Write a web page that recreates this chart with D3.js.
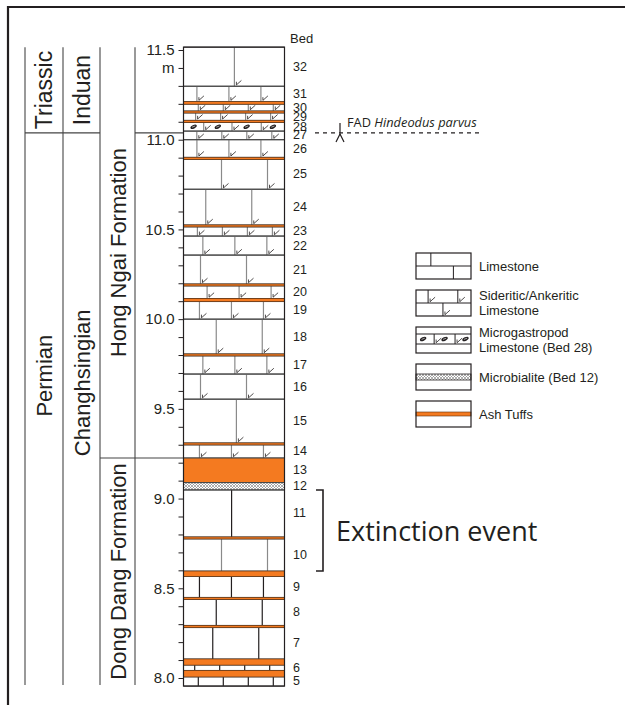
<!DOCTYPE html>
<html><head><meta charset="utf-8">
<script src="https://cdn.jsdelivr.net/npm/d3@7"></script>
<style>
body{margin:0;background:#fff}
svg{display:block}
text{font-family:"Liberation Sans",Arial,Helvetica,sans-serif;fill:#231f20}
.my{font-family:"Open Sans","Noto Sans",sans-serif}
</style></head><body><svg id="c" width="625" height="705"></svg>
<script>
// ---------------- DATA (metres above base of section) ----------------
const bedNumbers = [32,31,30,29,28,27,26,25,24,23,22,21,20,19,18,17,16,15,14,13,12,11,10,9,8,7,6,5];
const bedTops    = [11.516,11.298,11.198,11.149,11.096,11.048,11.000,10.890,10.724,10.514,10.463,10.357,10.185,10.098,10.000,9.795,9.694,9.554,9.299,9.226,9.089,9.048,8.775,8.566,8.438,8.281,8.072,8.006];
const bedBases   = [11.298,11.212,11.160,11.108,11.048,11.000,10.902,10.724,10.525,10.463,10.357,10.196,10.115,10.000,9.806,9.694,9.554,9.310,9.226,9.089,9.048,8.786,8.596,8.449,8.293,8.106,8.042,7.955];
const bedLithology = ["sid","sid","sid","sid","gast","sid","sid","sid","sid","sid","sid","sid","sid","sid","sid","sid","sid","sid","sid","ash","microb","lime","lime","lime","lime","lime","lime","lime"];

// thin ash-tuff partings (top, base)
const ashPartingTops  = [11.212,11.160,11.108,10.902,10.525,10.196,10.115,9.806,9.310,8.786,8.449,8.293];
const ashPartingBases = [11.198,11.149,11.096,10.890,10.514,10.185,10.098,9.795,9.299,8.775,8.438,8.281];
// thicker ash-tuff layers not numbered as separate beds
const ashLayerTops  = [8.596,8.106,8.042];
const ashLayerBases = [8.566,8.072,8.006];

const tickLabels = ["8.0","8.5","9.0","9.5","10.0","10.5","11.0","11.5"];
const minorTickStep = 0.1;
const unitLabel = "m";
const unitTickValue = 11.4;

const systemNames = ["Triassic","Permian"];
const systemTops  = [11.516, 11.038];
const systemBases = [11.038, 7.955];
const stageNames  = ["Induan","Changhsingian"];
const formationNames = ["Hong Ngai Formation","Dong Dang Formation"];
const formationTops  = [11.516, 9.226];
const formationBases = [9.226, 7.955];
// levels (m) at which the Permian and Changhsingian labels are centred
const permianLabelLevel = 9.685;
const changhsingianLabelLevel = 9.645;

const fadLevel = 11.038;
const extinctionTop = 9.048, extinctionBase = 8.596;

const legendTypes  = ["lime","sid","gast","microb","ash"];
const legendLabels = [["Limestone"],["Sideritic/Ankeritic","Limestone"],["Microgastropod","Limestone (Bed 28)"],["Microbialite (Bed 12)"],["Ash Tuffs"]];

// ---------------- DRAWING ----------------
const INK = "#231f20", ORANGE = "#f47a20", GREY = "#8a8a8a";
const svg = d3.select("#c");
const y = d3.scaleLinear().domain([8, 11.5]).range([678, 50]);
const X0 = 183.5, X1 = 284.5, W = X1 - X0;

const defs = svg.append("defs");
const pat = defs.append("pattern").attr("id","mb").attr("width",3).attr("height",3).attr("patternUnits","userSpaceOnUse");
pat.append("rect").attr("width",3).attr("height",3).attr("fill","#fff");
pat.append("path").attr("d","M0,0L3,3M3,0L0,3").attr("stroke","#8c8c8c").attr("stroke-width",0.7);

// frame
svg.append("path").attr("d","M8,705V7H625").attr("fill","none").attr("stroke",INK).attr("stroke-width",2.2);

// stratigraphic columns on the left
const colLinesX = [25, 63, 100, 135];
const gTop = y(systemTops[0]), gBot = 685;
colLinesX.forEach(x => svg.append("line").attr("x1",x).attr("x2",x).attr("y1",gTop).attr("y2",gBot).attr("stroke","#555").attr("stroke-width",1.2));
svg.append("line").attr("x1",25).attr("x2",100).attr("y1",y(systemBases[0])).attr("y2",y(systemBases[0])).attr("stroke","#444").attr("stroke-width",1.2);
svg.append("line").attr("x1",135).attr("x2",X0).attr("y1",y(fadLevel)).attr("y2",y(fadLevel)).attr("stroke","#444").attr("stroke-width",1.2);
svg.append("line").attr("x1",100).attr("x2",X0).attr("y1",y(formationBases[0])).attr("y2",y(formationBases[0])).attr("stroke","#444").attr("stroke-width",1.2);

function vlabel(txt, cx, cy, fs){
  svg.append("text").attr("transform",`translate(${cx},${cy}) rotate(-90)`).attr("text-anchor","middle")
    .attr("dominant-baseline","central").attr("font-size",fs).text(txt);
}
vlabel(systemNames[0], 44, (y(systemTops[0])+y(systemBases[0]))/2, 23);
vlabel(systemNames[1], 44, y(permianLabelLevel), 22);
vlabel(stageNames[0], 82, (y(systemTops[0])+y(systemBases[0]))/2, 23);
vlabel(stageNames[1], 82, y(changhsingianLabelLevel), 22);
formationNames.forEach((n,i)=>vlabel(n, 118, (y(formationTops[i])+ (i? gBot : y(formationBases[i])))/2, 22));

// ---------- lithology drawing helpers ----------
function sidTick(g, x, yb){
  g.append("path").attr("d",`M${x+2},${yb-4.5}L${x+2},${yb-1.3}L${x+7},${yb-5.8}`)
   .attr("fill","none").attr("stroke",INK).attr("stroke-width",0.8);
}
function gastro(g, cx, cy){
  g.append("ellipse").attr("cx",cx).attr("cy",cy).attr("rx",3.4).attr("ry",1.8)
   .attr("transform",`rotate(-25,${cx},${cy})`).attr("fill",INK);
  g.append("line").attr("x1",cx-1.6).attr("x2",cx+1.6).attr("y1",cy+0.4).attr("y2",cy-0.8)
   .attr("stroke","#fff").attr("stroke-width",0.6);
}
function brickXs(h, i){
  let n, s;
  if (h < 11) { n = 4; s = 25; }
  else if (h < 21) { n = 3; s = 32; }
  else if (h < 37) { n = 2; s = 46; }
  else { n = 1; s = 0; }
  const phases = [0.55, 0.2, 0.8, 0.35, 0.65];
  const f = phases[i % phases.length];
  const lo = 10, hi = W - (n-1)*s - 10;
  const off = n === 1 ? W*0.5 + (f-0.5)*8 : lo + f*(hi-lo);
  return d3.range(n).map(k => X0 + off + k*s);
}

const col = svg.append("g");
bedNumbers.forEach((b,i)=>{
  const yt = y(bedTops[i]), yb = y(bedBases[i]), h = yb - yt, lith = bedLithology[i];
  if (lith === "ash") {
    col.append("rect").attr("x",X0).attr("y",yt).attr("width",W).attr("height",h).attr("fill",ORANGE);
  } else if (lith === "microb") {
    col.append("rect").attr("x",X0).attr("y",yt).attr("width",W).attr("height",h).attr("fill","url(#mb)");
  } else if (lith === "gast") {
    const xs = [X0+W*0.2, X0+W*0.48, X0+W*0.77];
    xs.forEach(x=>{ col.append("line").attr("x1",x).attr("x2",x).attr("y1",yt).attr("y2",yb).attr("stroke",GREY).attr("stroke-width",1.2); sidTick(col,x,yb); });
    const edges = [X0, ...xs, X1];
    d3.range(edges.length-1).forEach(k => gastro(col,(edges[k]+edges[k+1])/2,(yt+yb)/2));
  } else {
    const xs = brickXs(h, i);
    xs.forEach(x=>{
      col.append("line").attr("x1",x).attr("x2",x).attr("y1",yt).attr("y2",yb)
        .attr("stroke", lith === "sid" ? GREY : (b === 10 ? GREY : INK)).attr("stroke-width",1.2);
      if (lith === "sid") sidTick(col, x, yb);
    });
  }
  [yt, yb].forEach(yy => col.append("line").attr("x1",X0).attr("x2",X1).attr("y1",yy).attr("y2",yy).attr("stroke","#444").attr("stroke-width",1)); 
  svg.append("text").attr("x",293).attr("y",(yt+yb)/2).attr("dominant-baseline","central")
    .attr("font-size",12.5).text(b);
});
ashPartingTops.forEach((t,i)=>{
  col.append("rect").attr("x",X0).attr("y",y(t)).attr("width",W).attr("height",y(ashPartingBases[i])-y(t))
    .attr("fill",ORANGE).attr("stroke","#5a3010").attr("stroke-width",0.6);
});
ashLayerTops.forEach((t,i)=>{
  col.append("rect").attr("x",X0).attr("y",y(t)).attr("width",W).attr("height",y(ashLayerBases[i])-y(t))
    .attr("fill",ORANGE).attr("stroke","#5a3010").attr("stroke-width",0.6);
});
// column outline
col.append("rect").attr("x",X0).attr("y",y(bedTops[0])).attr("width",W).attr("height",y(bedBases[bedBases.length-1])-y(bedTops[0]))
  .attr("fill","none").attr("stroke",INK).attr("stroke-width",1.2);

// axis
const lo = +tickLabels[0], hi = +tickLabels[tickLabels.length-1];
const tickVals = d3.range(Math.round(lo/minorTickStep), Math.round(hi/minorTickStep)+1).map(d=>+(d*minorTickStep).toFixed(1));
const axis = d3.axisLeft(y).tickValues(tickVals).tickSize(5).tickPadding(4)
  .tickFormat(d => { const s = d.toFixed(1); return tickLabels.includes(s) ? s : (Math.abs(d-unitTickValue)<1e-6 ? unitLabel : ""); });
const ag = svg.append("g").attr("transform",`translate(${X0},0)`).call(axis);
ag.select(".domain").remove();
ag.selectAll("line").attr("stroke",INK).attr("stroke-width",1);
ag.selectAll("text").attr("font-size",15).attr("font-family",'"Liberation Sans",Arial,sans-serif').attr("fill",INK);

svg.append("text").attr("x",290).attr("y",43).attr("font-size",13).text("Bed");

// FAD line
const fy = y(fadLevel);
svg.append("line").attr("x1",315).attr("x2",482).attr("y1",fy).attr("y2",fy).attr("stroke",INK).attr("stroke-width",1.4).attr("stroke-dasharray","4,4");
svg.append("path").attr("d",`M340,${fy-10}V${fy+1}M340,${fy+1}L336,${fy+9}M340,${fy+1}L344,${fy+9}`).attr("fill","none").attr("stroke",INK).attr("stroke-width",1.2);
const ft = svg.append("text").attr("class","my").attr("x",347).attr("y",fy-6).attr("font-size",12.8);
ft.append("tspan").text("FAD ");
ft.append("tspan").attr("font-style","italic").text("Hindeodus parvus");

// extinction bracket
const ey0 = y(extinctionTop), ey1 = y(extinctionBase);
svg.append("path").attr("d",`M316,${ey0}H323V${ey1}H316`).attr("fill","none").attr("stroke",INK).attr("stroke-width",1.6);
svg.append("text").attr("class","my").attr("x",336).attr("y",(ey0+ey1)/2).attr("dominant-baseline","central").attr("font-size",27).text("Extinction event");

// legend
const LX = 416, LW = 55, LH = 26;
const ly = d3.scalePoint().domain(legendTypes).range([253, 401]);
legendTypes.forEach((t,i)=>{
  const g = svg.append("g");
  const top = ly(t), bot = top + LH;
  if (t === "lime") {
    const m = top + LH/2;
    g.append("line").attr("x1",LX).attr("x2",LX+LW).attr("y1",m).attr("y2",m).attr("stroke",INK);
    g.append("line").attr("x1",LX+LW*0.27).attr("x2",LX+LW*0.27).attr("y1",top).attr("y2",m).attr("stroke",INK);
    g.append("line").attr("x1",LX+LW*0.68).attr("x2",LX+LW*0.68).attr("y1",m).attr("y2",bot).attr("stroke",INK);
  } else if (t === "sid") {
    const m = top + LH/2;
    g.append("line").attr("x1",LX).attr("x2",LX+LW).attr("y1",m).attr("y2",m).attr("stroke",INK);
    [0.22,0.76].forEach(f=>{ g.append("line").attr("x1",LX+LW*f).attr("x2",LX+LW*f).attr("y1",top).attr("y2",m).attr("stroke",INK); sidTick(g,LX+LW*f,m); });
    [0.49].forEach(f=>{ g.append("line").attr("x1",LX+LW*f).attr("x2",LX+LW*f).attr("y1",m).attr("y2",bot).attr("stroke",INK); sidTick(g,LX+LW*f,bot); });
  } else if (t === "gast") {
    const a = top + 7, b = top + 17;
    [a,b].forEach(yy=>g.append("line").attr("x1",LX).attr("x2",LX+LW).attr("y1",yy).attr("y2",yy).attr("stroke",INK));
    [0.33,0.71].forEach(f=>{ g.append("line").attr("x1",LX+LW*f).attr("x2",LX+LW*f).attr("y1",a).attr("y2",b).attr("stroke",INK); sidTick(g,LX+LW*f,b); });
    [0.13,0.52,0.9].forEach(f=>gastro(g,LX+LW*f,(a+b)/2));
  } else if (t === "microb") {
    g.append("rect").attr("x",LX).attr("y",top+10).attr("width",LW).attr("height",6).attr("fill","url(#mb)").attr("stroke",INK).attr("stroke-width",0.8);
  } else if (t === "ash") {
    g.append("rect").attr("x",LX).attr("y",top+11).attr("width",LW).attr("height",4).attr("fill",ORANGE).attr("stroke","#5a3010").attr("stroke-width",0.6);
  }
  g.append("rect").attr("x",LX).attr("y",top).attr("width",LW).attr("height",LH).attr("fill","none").attr("stroke",INK).attr("stroke-width",1.2);
  const lines = legendLabels[i];
  lines.forEach((s,k)=>{
    svg.append("text").attr("x",479).attr("y",top+LH/2 + (k - (lines.length-1)/2)*15).attr("dominant-baseline","central").attr("font-size",13).text(s);
  });
});
</script></body></html>
